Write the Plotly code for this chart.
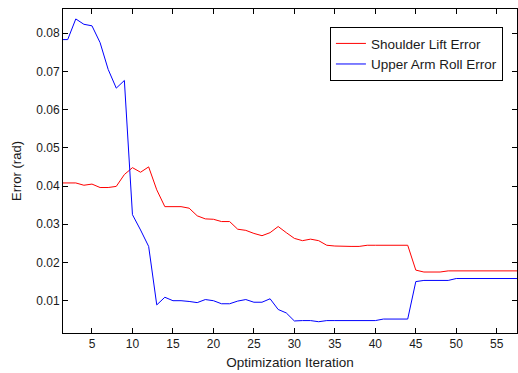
import plotly.graph_objects as go

iterations = list(range(1, 59))

shoulder_lift_error = [
    0.0408, 0.0408, 0.0408, 0.0402, 0.0405, 0.0396, 0.0396, 0.0399, 0.0430, 0.0448,
    0.0436, 0.0450, 0.0390, 0.0346, 0.0346, 0.0346, 0.0342, 0.0322, 0.0314, 0.0313,
    0.0307, 0.0307, 0.0287, 0.0284, 0.0276, 0.0270, 0.0278, 0.0294, 0.0278, 0.0263,
    0.0257, 0.0261, 0.0257, 0.0245, 0.0243, 0.0242, 0.0242, 0.0242, 0.0245, 0.0245,
    0.0245, 0.0245, 0.0245, 0.0245, 0.0180, 0.0175, 0.0175, 0.0175, 0.0178, 0.0178,
    0.0178, 0.0178, 0.0178, 0.0178, 0.0178, 0.0178, 0.0178, 0.0178,
]

upper_arm_roll_error = [
    0.0783, 0.0783, 0.0837, 0.0823, 0.0819, 0.0775, 0.0705, 0.0656, 0.0676, 0.0325,
    0.0285, 0.0242, 0.0089, 0.0109, 0.0100, 0.0100, 0.0098, 0.0095, 0.0103, 0.0100,
    0.0092, 0.0092, 0.0099, 0.0103, 0.0096, 0.0096, 0.0105, 0.0077, 0.0068, 0.0047,
    0.0048, 0.0048, 0.0045, 0.0048, 0.0048, 0.0048, 0.0048, 0.0048, 0.0048, 0.0048,
    0.0052, 0.0052, 0.0052, 0.0052, 0.0150, 0.0153, 0.0153, 0.0153, 0.0153, 0.0158,
    0.0158, 0.0158, 0.0158, 0.0158, 0.0158, 0.0158, 0.0158, 0.0158,
]

x_ticks = [5, 10, 15, 20, 25, 30, 35, 40, 45, 50, 55]
y_ticks = [0.01, 0.02, 0.03, 0.04, 0.05, 0.06, 0.07, 0.08]
y_tick_labels = ["0.01", "0.02", "0.03", "0.04", "0.05", "0.06", "0.07", "0.08"]

font_family = "Liberation Sans, Arial, sans-serif"

fig = go.Figure()
fig.add_trace(go.Scatter(x=iterations, y=shoulder_lift_error, mode="lines",
                         name="Shoulder Lift Error",
                         line=dict(color="#ff0000", width=1)))
fig.add_trace(go.Scatter(x=iterations, y=upper_arm_roll_error, mode="lines",
                         name="Upper Arm Roll Error",
                         line=dict(color="#0000ff", width=1)))

axis_common = dict(
    showline=True, linecolor="black", linewidth=1, mirror="ticks",
    ticks="inside", ticklen=5, tickcolor="black", tickwidth=1,
    showgrid=False, zeroline=False,
    tickfont=dict(family=font_family, size=12, color="#1a1a1a"),
)

fig.update_layout(
    width=518, height=373,
    margin=dict(l=63, r=1, t=9, b=40),
    paper_bgcolor="white", plot_bgcolor="white",
    font=dict(family=font_family, size=13, color="#1a1a1a"),
    xaxis=dict(range=[1.42, 57.5], tickvals=x_ticks,
               title=dict(text="Optimization Iteration", standoff=7,
                          font=dict(size=13.5)),
               **axis_common),
    yaxis=dict(range=[0.00155, 0.0863], tickvals=y_ticks, ticktext=y_tick_labels,
               title=dict(text="Error (rad)", standoff=11, font=dict(size=13)),
               **axis_common),
    legend=dict(x=0.969, y=0.944, xanchor="right", yanchor="top",
                bgcolor="white", bordercolor="black", borderwidth=1,
                font=dict(family=font_family, size=13.5, color="#1a1a1a"),
                tracegroupgap=0),
    showlegend=True,
)

fig.write_html("out.html")
